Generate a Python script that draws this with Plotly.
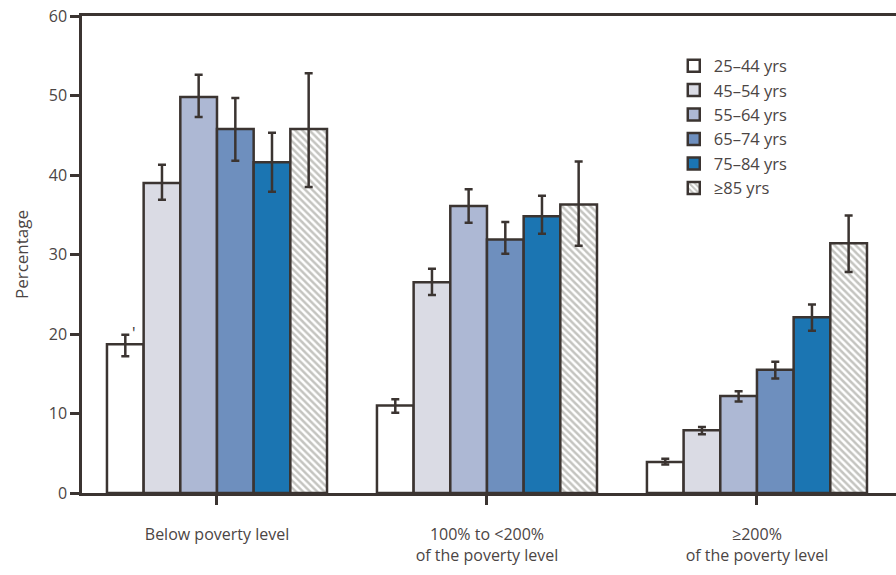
import plotly.graph_objects as go

# poverty level groups (x categories)
categories = ["Below poverty level",
              "100% to <200%<br>of the poverty level",
              "≥200%<br>of the poverty level"]

age_groups = ["25–44 yrs", "45–54 yrs", "55–64 yrs", "65–74 yrs", "75–84 yrs", "≥85 yrs"]

# percentage per age group, one value per poverty category
pct_25_44 = [18.7, 11.0, 3.9]
pct_45_54 = [39.0, 26.5, 7.9]
pct_55_64 = [49.8, 36.1, 12.2]
pct_65_74 = [45.8, 31.9, 15.5]
pct_75_84 = [41.6, 34.8, 22.1]
pct_85_up = [45.8, 36.3, 31.4]

# 95% CI upper / lower bounds
hi_25_44 = [19.9, 11.8, 4.3]
lo_25_44 = [17.2, 10.1, 3.6]
hi_45_54 = [41.3, 28.2, 8.3]
lo_45_54 = [36.9, 24.9, 7.4]
hi_55_64 = [52.6, 38.2, 12.8]
lo_55_64 = [47.3, 34.0, 11.5]
hi_65_74 = [49.7, 34.1, 16.5]
lo_65_74 = [41.8, 30.1, 14.4]
hi_75_84 = [45.3, 37.4, 23.7]
lo_75_84 = [37.9, 32.6, 20.4]
hi_85_up = [52.8, 41.7, 34.9]
lo_85_up = [38.5, 31.1, 27.8]

values = [pct_25_44, pct_45_54, pct_55_64, pct_65_74, pct_75_84, pct_85_up]
upper = [hi_25_44, hi_45_54, hi_55_64, hi_65_74, hi_75_84, hi_85_up]
lower = [lo_25_44, lo_45_54, lo_55_64, lo_65_74, lo_75_84, lo_85_up]

colors = ["#ffffff", "#dadbe4", "#adb8d4", "#6e8fbe", "#1b75b2", "#ffffff"]
dark = "#3b3431"
text_col = "#4b4544"

fig = go.Figure()
for i, name in enumerate(age_groups):
    marker = dict(color=colors[i], line=dict(color=dark, width=2.5))
    if i == len(age_groups) - 1:
        marker["pattern"] = dict(shape="\\", fgcolor="#8a8981", bgcolor="#ffffff",
                                 size=5, solidity=0.5)
    fig.add_trace(go.Bar(
        name=name,
        x=categories,
        y=values[i],
        marker=marker,
        error_y=dict(type="data", symmetric=False,
                     array=[u - v for u, v in zip(upper[i], values[i])],
                     arrayminus=[v - l for v, l in zip(values[i], lower[i])],
                     color=dark, thickness=2.5, width=4),
    ))

# footnote mark next to the first bar
fig.add_annotation(x=categories[0], y=hi_25_44[0], xref="x", yref="y",
                   text="'", showarrow=False, xshift=-83, yshift=2,
                   font=dict(size=16, color=dark))

fig.update_layout(
    width=896, height=575, autosize=False,
    margin=dict(l=82, r=0, t=16, b=82),
    paper_bgcolor="white", plot_bgcolor="white",
    font=dict(family="Open Sans", size=16, color=text_col),
    barmode="group", bargap=0.185, bargroupgap=0,
    showlegend=True,
    legend=dict(x=0.727, y=0.932, xanchor="left", yanchor="top",
                font=dict(size=16.5, color=text_col), traceorder="normal",
                bgcolor="rgba(0,0,0,0)"),
)
fig.update_xaxes(range=[-0.5, 2.515], showline=True, linecolor=dark, linewidth=2.5,
                 mirror=True, ticks="outside", ticklen=9, tickwidth=2.5,
                 tickcolor=dark, ticklabelstandoff=16, showgrid=False,
                 automargin=False, ticklabeloverflow="allow",
                 tickfont=dict(size=16, color=text_col))
fig.update_yaxes(range=[0, 60], dtick=10, showline=True, linecolor=dark, linewidth=2.5,
                 ticks="outside", ticklen=9, tickwidth=2.5, tickcolor=dark,
                 showgrid=False, zeroline=False, automargin=False,
                 ticklabeloverflow="allow",
                 title=dict(text="Percentage", standoff=16, font=dict(size=17, color=text_col)),
                 tickfont=dict(size=16, color=text_col))

# drop the browser's default body margin so the figure sits at the page corner
fig.write_html("out.html", config={"displayModeBar": False},
               post_script="document.body.style.margin='0';")
